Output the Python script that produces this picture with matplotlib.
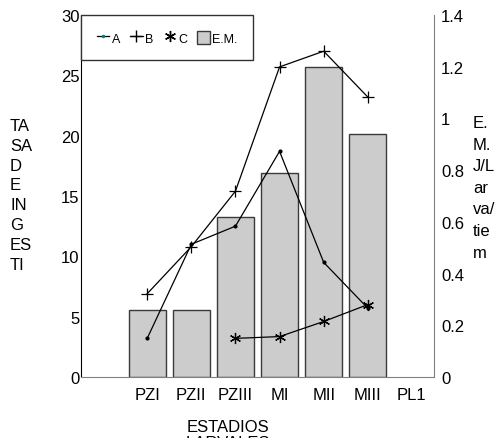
import numpy as np
import matplotlib
matplotlib.use("Agg")
import matplotlib.pyplot as plt
from matplotlib.patches import Patch
from matplotlib.lines import Line2D

plt.rcParams['font.family'] = ['Liberation Sans', 'DejaVu Sans']

# categories (first slot on the axis is empty)
estadios = ["PZI", "PZII", "PZIII", "MI", "MII", "MIII", "PL1"]
nan = np.nan
tasa_A = [3.2, 11.0, 12.5, 18.7, 9.5, 5.7, nan]
tasa_B = [6.9, 10.8, 15.4, 25.7, 27.0, 23.2, nan]
tasa_C = [nan, nan, 3.2, 3.35, 4.6, 6.0, nan]
em = [0.26, 0.26, 0.62, 0.79, 1.20, 0.94, nan]

left_ticks = [0, 5, 10, 15, 20, 25, 30]
right_ticks = [0, 0.2, 0.4, 0.6, 0.8, 1, 1.2, 1.4]

x = np.arange(1, len(estadios) + 1)
fs = 12

fig = plt.figure(figsize=(5.04, 4.39), dpi=100)
ax = fig.add_axes([81 / 504, 1 - 378 / 439, 353 / 504, 362 / 439])
ax2 = ax.twinx()

# bars (E.M.) on the right axis
ax2.bar(x, em, width=0.84, color='#cccccc', edgecolor='#3a3a3a', linewidth=1)
ax2.set_ylim(0, 1.4)
ax2.set_yticks(right_ticks)
ax2.set_yticklabels([f"{v:g}" for v in right_ticks], fontsize=fs)
ax2.tick_params(axis='y', length=0, pad=5)

# lines on top
ax.set_zorder(ax2.get_zorder() + 1)
ax.patch.set_visible(False)
ax.plot(x, tasa_A, color='black', lw=0.9, marker='.', ms=4)
ax.plot(x, tasa_B, color='black', lw=0.9, marker='+', ms=9, mew=0.9)
ax.plot(x, tasa_C, color='black', lw=0.9, marker=(6, 2, 0), ms=8, mew=0.9)

ax.set_xlim(-0.5, 7.5)
ax.set_ylim(0, 30)
ax.set_yticks(left_ticks)
ax.set_yticklabels([str(v) for v in left_ticks], fontsize=fs)
ax.set_xticks(x)
ax.set_xticklabels(estadios, fontsize=fs)
ax.tick_params(axis='y', length=0, pad=1)
ax.tick_params(axis='x', length=0, pad=7)

for s in ['top', 'right']:
    ax.spines[s].set_visible(False)
for s in ['top', 'left', 'bottom']:
    ax2.spines[s].set_visible(False)
ax.spines['left'].set_color('black')
ax.spines['bottom'].set_color('#808080')
ax2.spines['right'].set_color('#808080')

# legend
handles = [
    Line2D([], [], color='black', lw=0.9, marker='.', ms=3,
           markerfacecolor='teal', markeredgecolor='teal'),
    Line2D([], [], color='black', lw=0.9, marker='+', ms=9),
    Line2D([], [], color='none', marker=(6, 2, 0), ms=8, markeredgecolor='black'),
    Patch(facecolor='#cccccc', edgecolor='#3a3a3a'),
]
leg = ax.legend(handles, ["A", "B", "C", "E.M."], loc='upper left',
                bbox_to_anchor=(0, 1), borderaxespad=0, ncol=4, fontsize=9,
                handlelength=1.0, handleheight=1.3, handletextpad=0.2,
                columnspacing=0.8, borderpad=1.25, fancybox=False, framealpha=1)
leg.get_frame().set_edgecolor('#333333')
leg.get_frame().set_linewidth(1)

# axis titles written the way they appear
fig.text(10 / 504, 1 - 119 / 439, "TA\nSA\nD\nE\nIN\nG\nES\nTI", fontsize=fs,
         ha='left', va='top', linespacing=1.4)
fig.text(473 / 504, 1 - 116 / 439, "E.\nM.\nJ/L\nar\nva/\ntie\nm", fontsize=fs,
         ha='left', va='top', linespacing=1.55)
fig.text(228 / 504, 1 - 420 / 439, "ESTADIOS\nLARVALES", fontsize=fs,
         ha='center', va='top', linespacing=1.12)

fig.savefig('out.png', dpi=100)
